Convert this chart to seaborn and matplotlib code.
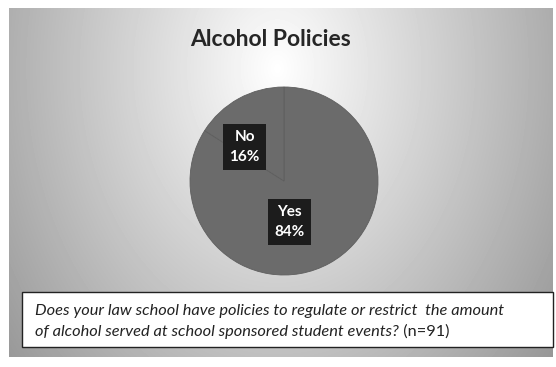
import numpy as np
import matplotlib
matplotlib.use("Agg")
import matplotlib.pyplot as plt
import seaborn as sns
from matplotlib.patches import Rectangle

# Data
labels = ["Yes", "No"]
shares = [84, 16]
title = "Alcohol Policies"
question_italic = [
    "Does your law school have policies to regulate or restrict  the amount",
    "of alcohol served at school sponsored student events?",
]
question_tail = " (n=91)"

sns.set_theme(style="white")
plt.rcParams["font.family"] = ["Lato", "DejaVu Sans"]

W, H = 556, 367
fig = plt.figure(figsize=(W / 100, H / 100), dpi=100)
fig.patch.set_facecolor("white")

# radial grey gradient background for the chart area
bg = fig.add_axes([9 / W, 1 - 357 / H, 544 / W, 349 / H])
yy, xx = np.mgrid[0:349, 0:544]
d = np.sqrt(((xx - 268) / 300.0) ** 2 + ((yy - 60) / 400.0) ** 2)
shade = np.clip(1.0 - 0.35 * d, 0.55, 1.0)
bg.imshow(shade, cmap="gray", vmin=0, vmax=1, aspect="auto")
bg.axis("off")

fig.text(271 / W, 1 - 40 / H, title, ha="center", va="center",
         fontsize=16.5, fontweight="bold", color="#262626")

# pie
r = 94
cx, cy = 284, 181
ax = fig.add_axes([(cx - r) / W, 1 - (cy + r) / H, 2 * r / W, 2 * r / H])
wedges, _ = ax.pie(shares, startangle=90, counterclock=False,
                   colors=["#6b6b6b", "#6b6b6b"],
                   wedgeprops=dict(edgecolor="#5e5e5e", linewidth=0.6))
ax.set_aspect("equal")
ax.set_xlim(-1, 1)
ax.set_ylim(-1, 1)
ax.axis("off")

label_pos = {"No": (-0.42, 0.36), "Yes": (0.06, -0.44)}
for lab, val in zip(labels, shares):
    x, y = label_pos[lab]
    ax.text(x, y, f"{lab}\n{val}%", ha="center", va="center", color="white",
            fontsize=11, fontweight="bold", linespacing=1.55,
            bbox=dict(boxstyle="square,pad=0.4", facecolor="#1c1c1c",
                      edgecolor="none"))

# question box
fig.patches.append(Rectangle((22 / W, 1 - 347 / H), 531 / W, 55 / H,
                             transform=fig.transFigure, facecolor="white",
                             edgecolor="#222222", linewidth=1.0))
fs = 11.8
fig.text(35 / W, 1 - 311 / H, question_italic[0], ha="left", va="center",
         fontsize=fs, style="italic", color="#222222")
t2 = fig.text(35 / W, 1 - 332 / H, question_italic[1], ha="left", va="center",
              fontsize=fs, style="italic", color="#222222")
fig.canvas.draw()
bb = t2.get_window_extent()
fig.text(bb.x1 / W, 1 - 332 / H, question_tail, ha="left", va="center",
         fontsize=fs, color="#222222")

fig.savefig("out.png", dpi=100)
